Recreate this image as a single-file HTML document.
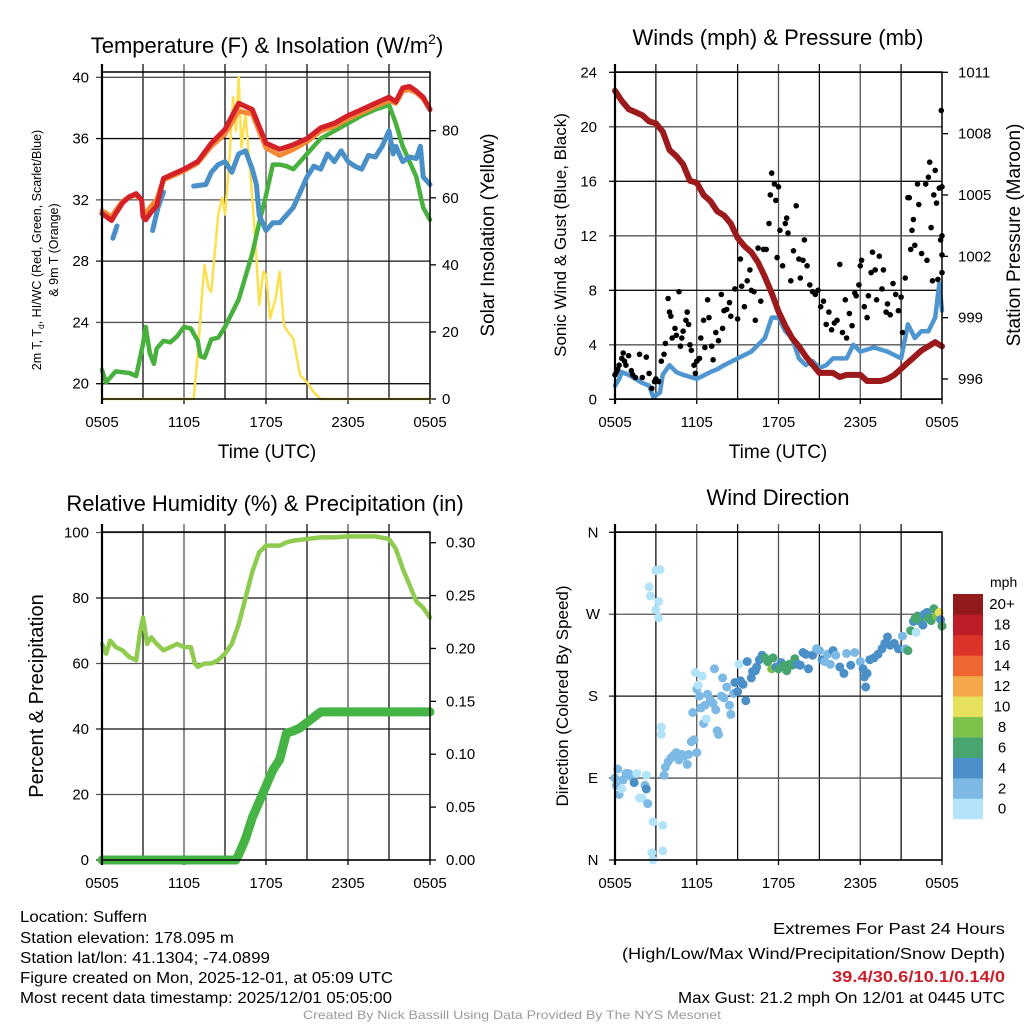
<!DOCTYPE html>
<html><head><meta charset="utf-8"><style>
html,body{margin:0;padding:0;background:#fff;}
svg{display:block;font-family:"Liberation Sans",Arial,sans-serif;}
</style></head><body>
<svg id="chart" width="1024" height="1024" viewBox="0 0 1024 1024" xmlns="http://www.w3.org/2000/svg">
<rect width="1024" height="1024" fill="#fff"/>
<g id="layer"></g>
<!-- titles -->
<text x="267" y="53" font-size="22" text-anchor="middle">Temperature (F) &amp; Insolation (W/m<tspan font-size="14" dy="-9">2</tspan><tspan dy="9">)</tspan></text>
<text x="778" y="45" font-size="22" text-anchor="middle">Winds (mph) &amp; Pressure (mb)</text>
<text x="265" y="511" font-size="22" text-anchor="middle">Relative Humidity (%) &amp; Precipitation (in)</text>
<text x="778" y="505" font-size="22" text-anchor="middle">Wind Direction</text>
<!-- axis titles -->
<text transform="translate(41,250) rotate(-90)" font-size="12.5" text-anchor="middle">2m T, T<tspan font-size="8.5" dy="3">d</tspan><tspan dy="-3">, HI/WC (Red, Green, Scarlet/Blue)</tspan></text>
<text transform="translate(58,250) rotate(-90)" font-size="12.5" text-anchor="middle">&amp; 9m T (Orange)</text>
<text transform="translate(494,235) rotate(-90)" font-size="19" text-anchor="middle">Solar Insolation (Yellow)</text>
<text transform="translate(566,235) rotate(-90)" font-size="17" text-anchor="middle">Sonic Wind &amp; Gust (Blue, Black)</text>
<text transform="translate(1020,235) rotate(-90)" font-size="19" text-anchor="middle">Station Pressure (Maroon)</text>
<text transform="translate(43,696) rotate(-90)" font-size="20" text-anchor="middle">Percent &amp; Precipitation</text>
<text transform="translate(568,696) rotate(-90)" font-size="17" text-anchor="middle">Direction (Colored By Speed)</text>
<text x="267" y="458" font-size="19" text-anchor="middle">Time (UTC)</text>
<text x="778" y="458" font-size="19" text-anchor="middle">Time (UTC)</text>
<!-- footer text -->
<g font-size="15.5">
<text x="20" y="922" textLength="127" lengthAdjust="spacingAndGlyphs">Location: Suffern</text>
<text x="20" y="943" textLength="214" lengthAdjust="spacingAndGlyphs">Station elevation: 178.095 m</text>
<text x="20" y="963" textLength="250" lengthAdjust="spacingAndGlyphs">Station lat/lon: 41.1304; -74.0899</text>
<text x="20" y="983" textLength="373" lengthAdjust="spacingAndGlyphs">Figure created on Mon, 2025-12-01, at 05:09 UTC</text>
<text x="20" y="1003" textLength="372" lengthAdjust="spacingAndGlyphs">Most recent data timestamp: 2025/12/01 05:05:00</text>
</g>
<g font-size="16" text-anchor="end">
<text x="1005" y="934" textLength="232" lengthAdjust="spacingAndGlyphs">Extremes For Past 24 Hours</text>
<text x="1005" y="959" textLength="383" lengthAdjust="spacingAndGlyphs">(High/Low/Max Wind/Precipitation/Snow Depth)</text>
<text x="1005" y="982" fill="#c8202a" font-weight="bold" textLength="173" lengthAdjust="spacingAndGlyphs">39.4/30.6/10.1/0.14/0</text>
<text x="1005" y="1003" textLength="327" lengthAdjust="spacingAndGlyphs">Max Gust: 21.2 mph On 12/01 at 0445 UTC</text>
</g>
<text x="512" y="1019" font-size="12" fill="#9a9a9a" text-anchor="middle" textLength="418" lengthAdjust="spacingAndGlyphs">Created By Nick Bassill Using Data Provided By The NYS Mesonet</text>
</svg>
<script>
// ---------- data ----------
const xTickLabels = ["0505","1105","1705","2305","0505"];
const tempTicks = [20,24,28,32,36,40];
const insolTicks = [0,20,40,60,80];
const windTicks = [0,4,8,12,16,20,24];
const presTicks = [996,999,1002,1005,1008,1011];
const rhTicks = [0,20,40,60,80,100];
const precipTicks = [0,0.05,0.10,0.15,0.20,0.25,0.30];
const precipTickLabels = ["0.00","0.05","0.10","0.15","0.20","0.25","0.30"];
const dirTicks = [0,90,180,270,360];
const dirTickLabels = ["N","E","S","W","N"];

const tempHours = [0,0.7,1,1.5,2,2.5,2.9,3,3.2,3.6,4,4.5,5,6,7,8,9,10,11,12,13,14,15,16,17,18,19,20,21,21.5,22,22.5,23,23.5,24];
const tempRed = [31.1,30.65,31.1,31.8,32.2,32.4,32.0,30.9,30.7,31.2,31.6,33.4,33.6,34.0,34.5,35.7,36.6,38.3,37.9,35.7,35.3,35.6,36.0,36.7,37.0,37.5,37.9,38.3,38.7,38.4,39.3,39.4,39.1,38.7,37.9];
const temp9m = [31.3,30.9,31.3,31.9,32.2,32.3,32.0,31.3,31.1,31.6,32.0,33.3,33.5,33.9,34.4,35.5,36.3,37.8,37.6,35.4,34.9,35.3,35.8,36.5,36.8,37.3,37.7,38.1,38.5,38.3,39.1,39.2,39.0,38.6,37.9];
const dewHours = [0,0.3,1,2,2.5,3,3.2,3.5,3.8,4,4.5,5,5.5,6,6.5,7,7.2,7.5,8,8.5,9,10,10.5,11,11.5,12,12.5,13,13.5,14,14.5,15,16,17,18,19,20,21,21.5,22,23,23.5,24];
const dewPoint = [20.9,20.1,20.8,20.7,20.5,22.6,23.7,22.0,21.3,22.3,22.8,22.7,23.1,23.7,23.6,22.8,21.8,21.7,22.9,23.0,23.7,25.5,27.0,28.5,30.5,32.3,34.3,34.3,34.2,34.0,34.5,35.0,36.0,36.5,37.0,37.5,37.9,38.2,37.0,35.5,33.5,31.5,30.7];
const wcHours = [0.8,1.1,null,3.7,4.1,4.5,null,6.7,7.6,8,8.5,9,9.5,10,10.5,11,11.3,11.5,12,12.5,13,13.5,14,14.5,15,15.5,16,16.5,17,17.5,18,18.5,19,19.5,20,20.5,21,21.3,21.5,22,22.5,23,23.3,23.5,24];
const windChill = [29.5,30.3,null,30.0,31.5,32.5,null,32.9,33.0,33.8,34.3,34.5,33.8,35.0,35.2,34.0,33.0,31.0,30.0,30.5,30.5,31.0,31.5,32.5,33.5,34.2,34.0,35.0,34.5,35.2,34.5,34.2,34.0,34.9,34.8,35.5,36.5,35.0,35.5,34.5,34.8,34.7,35.5,33.5,33.0];
const insolHours = [0,6.7,7,7.3,7.5,7.8,8,8.5,8.8,9,9.3,9.6,9.8,10,10.2,10.5,11,11.3,11.5,11.8,12,12.3,12.7,13,13.3,13.6,14,14.5,15,15.5,16,24];
const insolation = [0,0,13,30,40,33,32,55,60,55,70,90,80,96,75,85,60,42,28,38,37,24,30,38,22,20,18,7,5,2,0,0];

const windHours = [0,0.3,0.5,1,2,2.5,2.8,3,3.3,3.5,4,4.5,5,6,7,7.5,8,9,10,10.5,11,11.5,12,12.5,13,13.5,14,14.5,15,15.5,16,17,17.5,18,19,20,21,21.5,22,22.5,23,23.5,23.8,24];
const windSpeed = [1.0,1.5,2.0,1.8,1.2,1.0,0.2,0.3,0.5,1.8,2.5,2.0,1.8,1.5,2.0,2.2,2.5,3.0,3.5,4.0,4.5,6.0,6.0,5.0,4.5,3.0,2.5,2.8,2.3,2.5,3.0,3.0,4.0,3.5,3.8,3.5,3.0,5.5,4.5,5.0,5.0,6.0,8.5,6.5];
const presHours = [0,0.5,1,2,2.5,3,3.5,4,4.5,5,5.5,6,6.5,7,7.5,8,8.5,9,9.5,10,10.5,11,11.5,12,12.5,13,13.5,14,14.5,15,15.5,16,16.5,17,17.5,18,18.5,19,19.5,20,20.5,21,21.5,22,22.5,23,23.5,24];
const pressure = [1010.1,1009.6,1009.2,1008.9,1008.6,1008.5,1008.1,1007.2,1006.9,1006.5,1005.7,1005.6,1005.0,1004.7,1004.2,1004.0,1003.6,1002.9,1002.5,1002.2,1001.7,1001.0,1000.2,999.3,998.6,998.0,997.6,997.1,996.7,996.3,996.3,996.3,996.1,996.2,996.2,996.2,995.9,995.9,995.9,996.0,996.2,996.5,996.8,997.1,997.4,997.6,997.8,997.6];
const gustHours = [0,0.1,0.2,0.3,0.5,0.6,0.7,0.8,1,1.2,1.3,1.5,1.8,2,2.3,2.5,2.7,2.9,3,3.2,3.4,3.6,3.7,3.9,4,4.1,4.2,4.4,4.5,4.7,4.8,4.9,5,5.2,5.3,5.4,5.5,5.6,5.8,5.9,6,6.2,6.3,6.5,6.6,6.8,6.9,7.1,7.2,7.4,7.6,7.8,7.9,8,8.2,8.4,8.5,8.8,9,9.2,9.3,9.5,9.7,9.9,10,10.2,10.3,10.5,10.7,10.9,11.1,11.3,11.4,11.5,11.7,11.8,11.9,12,12.1,12.3,12.5,12.6,12.7,12.9,13.1,13.3,13.5,13.6,13.8,13.9,14.1,14.3,14.5,14.7,14.9,15.1,15.3,15.5,15.7,15.9,16.1,16.3,16.5,16.7,16.9,17,17.2,17.4,17.6,17.7,17.9,18,18.1,18.3,18.5,18.6,18.8,18.9,19.1,19.2,19.4,19.6,19.7,19.9,20,20.2,20.4,20.6,20.8,21,21.1,21.3,21.5,21.6,21.7,21.8,21.9,22,22.2,22.3,22.5,22.8,22.9,23,23.1,23.2,23.3,23.4,23.5,23.6,23.7,23.8,23.9,23.95,24,24,24,24];
const gustSpeed = [1.8,2.0,2.2,2.5,3.0,3.4,2.8,2.5,3.2,2.1,1.8,1.6,3.3,1.6,3.1,1.9,0.8,1.3,1.5,1.3,2.8,3.3,4.1,7.4,6.4,6.1,4.5,5.2,4.7,7.9,3.9,4.5,5.0,5.8,6.4,5.5,4.0,3.6,2.5,1.9,2.8,3.0,4.5,5.8,3.8,7.3,6.0,3.9,2.9,4.9,4.3,7.7,5.2,6.5,6.6,7.1,6.1,8.1,5.9,10.3,8.3,6.8,8.7,9.5,8.0,7.9,5.8,11.1,7.2,11.0,11.0,12.9,15.0,16.6,15.8,14.6,10.4,15.6,12.4,9.8,12.9,13.3,12.2,8.7,10.9,14.2,10.3,8.9,10.2,11.7,9.8,8.4,7.9,7.7,8.0,6.8,7.2,5.5,6.4,5.1,5.6,5.8,9.9,4.9,7.3,4.5,6.3,5.4,7.8,7.6,8.4,9.8,10.2,6.8,6.0,7.6,9.3,10.8,9.5,7.3,10.5,8.1,9.5,6.4,7.0,6.2,8.5,7.7,6.5,7.5,4.9,8.9,14.8,14.8,11.0,12.4,13.2,11.3,15.8,14.3,10.7,15.8,10.2,16.3,17.4,12.6,8.7,15.0,16.8,14.4,8.8,15.5,11.7,21.2,15.6,10.6,12.0,9.3];

const rhHours = [0,0.3,0.6,1,1.5,2,2.5,2.8,3,3.3,3.6,4,4.5,5,5.5,6,6.5,6.8,7,7.5,8,8.5,9,9.5,10,10.5,11,11.5,12,12.5,13,13.5,14,15,16,17,18,19,20,21,21.5,22,22.5,23,23.5,24];
const relHumidity = [66,63,67,65,64,62,61,70,74,66,68,66,64,65,66,65,65,60,59,60,60,61,63,66,72,80,88,94,96,96,96,97,97.5,98,98.5,98.5,98.8,98.8,98.8,98,95,89,84,79,77,74];
const precipHours = [0,9.8,10,10.5,11,11.5,12,12.5,13,13.5,14,14.5,15,15.5,16,24];
const precip = [0,0,0.005,0.02,0.04,0.055,0.07,0.085,0.095,0.12,0.122,0.125,0.13,0.135,0.14,0.14];

const dirHours = [0,0.1,0.2,0.3,0.5,0.6,0.8,1.0,1.2,1.4,1.6,1.8,2.0,2.2,2.3,2.4,2.3,2.5,2.6,3.0,3.2,3.0,3.2,3.3,2.8,2.7,2.8,3.5,3.5,3.4,3.4,3.6,3.7,3.9,4.1,4.3,4.5,4.7,4.9,5.1,5.3,5.4,5.6,5.8,5.7,6.0,5.9,6.0,6.1,6.2,6.3,6.4,6.5,6.6,6.7,6.8,7.0,7.2,7.3,7.4,7.5,7.6,7.8,7.9,8.0,8.2,8.4,8.5,8.7,8.8,9.0,9.1,9.2,9.4,9.6,9.7,10.0,10.1,10.3,10.4,10.6,10.8,11.0,11.2,11.5,11.6,11.8,12.0,12.2,12.4,12.6,12.8,13.0,13.2,13.4,13.6,13.8,14.0,14.2,14.5,14.8,15.0,15.2,15.4,15.6,15.8,16.0,16.2,16.5,16.8,17.0,17.3,17.6,18.0,18.2,18.3,18.4,18.5,18.7,19.0,19.3,19.6,19.8,20.0,20.2,20.5,20.8,21.1,21.3,21.5,21.7,21.9,22.0,22.1,22.2,22.4,22.6,22.7,22.9,23.0,23.2,23.4,23.6,23.8,23.9,24.0];
const dirDegrees = [90,82,100,72,78,88,95,95,92,85,95,68,68,82,78,62,93,300,290,318,284,275,266,319,42,8,0,10,38,146,138,93,102,108,112,115,118,110,116,114,105,116,130,132,162,118,206,188,192,180,167,202,150,170,155,182,176,172,210,165,142,138,180,200,178,190,170,160,183,195,185,215,197,193,175,218,200,207,208,212,220,225,222,218,210,222,212,210,217,214,208,215,214,221,215,214,228,226,210,225,232,230,220,218,226,215,230,225,212,205,227,214,228,218,210,201,190,205,220,222,226,232,238,245,236,238,232,246,232,230,252,262,265,250,268,262,258,270,272,266,263,276,268,272,264,257];
const dirSpeed = [3,3,3,3,1,3,3,3,3,5,1,1,1,3,5,3,1,1,1,1,1,1,1,1,1,1,1,1,1,1,1,3,3,3,3,3,3,3,3,3,3,3,3,3,3,3,1,3,1,3,3,1,3,3,1,3,3,3,3,3,3,3,3,3,3,3,3,3,3,5,5,1,5,5,5,5,5,5,5,5,5,5,7,7,9,7,5,7,5,7,7,7,7,7,5,5,5,5,5,5,3,3,5,3,3,3,5,3,5,5,3,5,3,3,5,5,5,5,5,5,5,5,5,5,5,5,5,3,3,7,7,5,7,1,7,7,5,5,5,7,7,7,9,11,5,7];
const colorBins = ["#b3e3f8","#7cb9e4","#4a8fc7","#47a56f","#7cc24b","#e6e05c","#f4a849","#ef6631","#dc3429","#bd1d26","#921a1c"];
const colorLabels = ["0","2","4","6","8","10","12","14","16","18","20+"];

// ---------- helpers ----------
const NS = "http://www.w3.org/2000/svg";
const layer = document.getElementById("layer");
function mk(tag, attrs, parent){
  const e = document.createElementNS(NS, tag);
  for (const k in attrs) e.setAttribute(k, attrs[k]);
  (parent||layer).appendChild(e);
  return e;
}
function lin(d0,d1,r0,r1){ return v => r0 + (v-d0)/(d1-d0)*(r1-r0); }
function pathFrom(xs, ys, sx, sy){
  let d = "", pen = false;
  for (let i=0;i<xs.length;i++){
    if (xs[i]===null || ys[i]===null){ pen=false; continue; }
    d += (pen?"L":"M") + sx(xs[i]).toFixed(1) + "," + sy(ys[i]).toFixed(1);
    pen = true;
  }
  return d;
}

function panel(name, x0, x1, y0, y1){
  const g = mk("g", {});
  
  
  const sx = lin(0,24,x0,x1);
  for (let h=3; h<24; h+=3){
    const l = mk("line",{x1:sx(h),x2:sx(h),y1:y0-8,y2:y1,stroke:(h%6===0)?"#555":"#111","stroke-width":1.3},g);
    
    
  }
  xTickLabels.forEach((lab,i)=>{
    const h=i*6;
    mk("line",{x1:sx(h),x2:sx(h),y1:y1,y2:y1+5,stroke:"#000","stroke-width":1.3},g);
    const t = mk("text",{x:sx(h),y:y1+28,"font-size":15,"text-anchor":"middle"},g);
    t.textContent = lab;
    
    
  });
  return {g, sx};
}
function hGrid(g, ticks, sy, x0, x1, lx, labels, anchor, fs){
  ticks.forEach((v,i)=>{
    const y = sy(v);
    const l = mk("line",{x1:x0-6,x2:x1,y1:y,y2:y,stroke:(i%2)?"#555":"#111","stroke-width":1.3},g);
    
    
    const t = mk("text",{x:lx,y:y+5,"font-size":fs||15,"text-anchor":anchor},g);
    t.textContent = labels ? labels[i] : v;
    
    
  });
}
function rightTicks(g, ticks, sy, x1, lx, labels, fs){
  ticks.forEach((v,i)=>{
    const y = sy(v);
    mk("line",{x1:x1,x2:x1+6,y1:y,y2:y,stroke:"#000","stroke-width":1.3},g);
    const t = mk("text",{x:lx,y:y+5,"font-size":fs||15,"text-anchor":"start"},g);
    t.textContent = labels ? labels[i] : v;
    
    
  });
}
function border(g,x0,x1,y0,y1){
  mk("rect",{x:x0,y:y0,width:x1-x0,height:y1-y0,fill:"none",stroke:"#000","stroke-width":1.5},g);
  mk("line",{x1:x0,x2:x0,y1:y0-8,y2:y1+5,stroke:"#000","stroke-width":2.2},g);
}
function line(g, name, xs, ys, sx, sy, color, w){
  const p = mk("path",{d:pathFrom(xs,ys,sx,sy),fill:"none",stroke:color,"stroke-width":w,"stroke-linejoin":"round","stroke-linecap":"round"},g);
  
  
  return p;
}

// ---------- panel 1: temperature ----------
{
  const x0=102,x1=430,y0=72,y1=399;
  const {g,sx} = panel("temperature-panel",x0,x1,y0,y1);
  const sy = lin(20,40,383.7,77.3);
  const sr = lin(0,80,399,130.7);
  hGrid(g,tempTicks,sy,x0,x1,89,null,"end",15);
  rightTicks(g,insolTicks,sr,x1,442,null,15);
  line(g,"insolation-line",insolHours,insolation,sx,sr,"#fbe04f",2.5);
  line(g,"dewpoint-line",dewHours,dewPoint,sx,sy,"#48b03d",4.5);
  line(g,"windchill-line",wcHours,windChill,sx,sy,"#4a90c8",5);
  line(g,"temp-9m-line",tempHours,temp9m,sx,sy,"#f58a35",5);
  line(g,"temp-2m-line",tempHours,tempRed,sx,sy,"#d42027",5);
  border(g,x0,x1,y0,y1);
}
// ---------- panel 2: winds ----------
{
  const x0=615,x1=942,y0=72,y1=399;
  const {g,sx} = panel("winds-panel",x0,x1,y0,y1);
  const sy = lin(0,24,399.3,72.3);
  const sp = lin(996,1011,379,72.3);
  hGrid(g,windTicks,sy,x0,x1,597,null,"end",15);
  rightTicks(g,presTicks,sp,x1,958,null,15);
  line(g,"wind-speed-line",windHours,windSpeed,sx,sy,"#4f96d0",4.5);
  line(g,"pressure-line",presHours,pressure,sx,sp,"#9c1a1c",6);
  gustHours.forEach((h,i)=>{
    const c = mk("circle",{cx:sx(h).toFixed(1),cy:sy(gustSpeed[i]).toFixed(1),r:2.8,fill:"#000"},g);
    
    
  });
  border(g,x0,x1,y0,y1);
}
// ---------- panel 3: humidity ----------
{
  const x0=102,x1=430,y0=532,y1=860;
  const {g,sx} = panel("humidity-panel",x0,x1,y0,y1);
  const sy = lin(0,100,860,532.5);
  const sq = lin(0,0.30,860,542.7);
  hGrid(g,rhTicks,sy,x0,x1,89,null,"end",15);
  rightTicks(g,precipTicks,sq,x1,446,precipTickLabels,15);
  line(g,"humidity-line",rhHours,relHumidity,sx,sy,"#8fcb4f",4.5);
  line(g,"precipitation-line",precipHours,precip,sx,sq,"#46b445",9);
  border(g,x0,x1,y0,y1);
}
// ---------- panel 4: wind direction ----------
{
  const x0=615,x1=942,y0=532,y1=860;
  const {g,sx} = panel("wind-direction-panel",x0,x1,y0,y1);
  const sy = lin(0,360,860,532.3);
  hGrid(g,dirTicks,sy,x0,x1,593,dirTickLabels,"middle",15);
  dirHours.forEach((h,i)=>{
    const bin = Math.min(colorBins.length-1, Math.floor(dirSpeed[i]/2));
    const c = mk("circle",{cx:sx(h).toFixed(1),cy:sy(dirDegrees[i]).toFixed(1),r:4.5,fill:colorBins[bin]},g);
    
    
  });
  border(g,x0,x1,y0,y1);
  const cb = mk("g",{});
  
  
  const bh = 20.45, top = 594;
  colorBins.forEach((c,i)=>{
    const y = top + (colorBins.length-1-i)*bh;
    mk("rect",{x:953,y:y,width:30,height:bh+0.3,fill:c},cb);
    const t = mk("text",{x:1002,y:y+bh/2+5,"font-size":15,"text-anchor":"middle"},cb);
    t.textContent = colorLabels[i];
    
    
  });
  const m = mk("text",{x:990,y:587,"font-size":14},cb);
  m.textContent = "mph";
  
  
}
</script>
</body></html>
